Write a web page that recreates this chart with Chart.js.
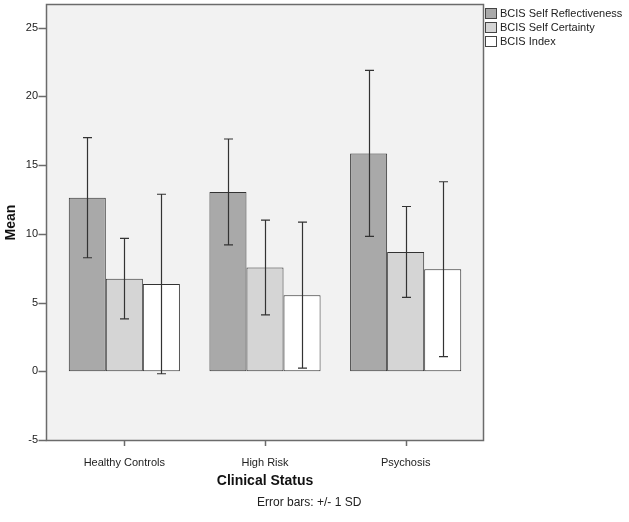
<!DOCTYPE html>
<html>
<head>
<meta charset="utf-8">
<script src="https://cdn.jsdelivr.net/npm/chart.js@4.4.1/dist/chart.umd.min.js"></script>
<style>
  body { margin: 0; background: #fff; }
  #wrap { width: 629px; height: 522px; }
</style>
</head>
<body>
<div id="wrap"><canvas id="chart" width="629" height="522"></canvas></div>
<script>
// --- data ---
const categories = ['Healthy Controls', 'High Risk', 'Psychosis'];
const seriesNames = ['BCIS Self Reflectiveness', 'BCIS Self Certainty', 'BCIS Index'];
const reflectivenessMean = [12.63, 13.05, 15.85];
const reflectivenessSD = [4.37, 3.85, 6.04];
const certaintyMean = [6.74, 7.55, 8.68];
const certaintySD = [2.93, 3.45, 3.31];
const indexMean = [6.35, 5.54, 7.43];
const indexSD = [6.53, 5.31, 6.36];
const yTicks = [-5, 0, 5, 10, 15, 20, 25];

const FONT = "'Liberation Sans', Arial, sans-serif";
const fills = ['#a9a9a9', '#d5d5d5', '#ffffff'];
const means = [reflectivenessMean, certaintyMean, indexMean];
const sds = [reflectivenessSD, certaintySD, indexSD];

// frame sticks out a little past the chart area on left/right
const FRAME_PAD = 7;

const spssLook = {
    id: 'spssLook',
    beforeDraw(chart) {
        const { ctx, chartArea: a } = chart;
        ctx.save();
        ctx.fillStyle = '#fff';
        ctx.fillRect(0, 0, chart.width, chart.height);
        ctx.fillStyle = '#f2f2f2';
        ctx.fillRect(a.left - FRAME_PAD, a.top - 1, a.right - a.left + 2 * FRAME_PAD, a.bottom - a.top + 1);
        ctx.restore();
    },
    afterDatasetsDraw(chart) {
        const { ctx } = chart;
        const y = chart.scales.y;
        ctx.save();
        ctx.strokeStyle = '#333';
        ctx.lineWidth = 1.2;
        means.forEach((m, i) => {
            chart.getDatasetMeta(i).data.forEach((bar, j) => {
                const x = Math.round(bar.x) + 0.5;
                const hi = y.getPixelForValue(m[j] + sds[i][j]);
                const lo = y.getPixelForValue(m[j] - sds[i][j]);
                ctx.beginPath();
                ctx.moveTo(x, hi); ctx.lineTo(x, lo);
                ctx.moveTo(x - 4.5, hi); ctx.lineTo(x + 4.5, hi);
                ctx.moveTo(x - 4.5, lo); ctx.lineTo(x + 4.5, lo);
                ctx.stroke();
            });
        });
        ctx.restore();
    },
    afterDraw(chart) {
        const { ctx, chartArea: a } = chart;
        const y = chart.scales.y, x = chart.scales.x;
        const left = a.left - FRAME_PAD - 0.5, right = a.right + FRAME_PAD + 0.5;
        ctx.save();
        // frame
        ctx.strokeStyle = '#6b6b6b';
        ctx.lineWidth = 1.5;
        ctx.strokeRect(left, a.top - 0.5, right - left, a.bottom - a.top + 1);
        // tick marks
        ctx.beginPath();
        y.ticks.forEach(t => {
            const py = Math.round(y.getPixelForValue(t.value)) + 0.5;
            ctx.moveTo(left - 8, py); ctx.lineTo(left, py);
        });
        categories.forEach((c, i) => {
            const px = Math.round(x.getPixelForValue(i)) + 0.5;
            ctx.moveTo(px, a.bottom); ctx.lineTo(px, a.bottom + 6);
        });
        ctx.stroke();

        // legend
        ctx.font = '11px ' + FONT;
        ctx.textBaseline = 'middle';
        ctx.textAlign = 'left';
        seriesNames.forEach((name, i) => {
            const cy = 13.5 + i * 14;
            ctx.fillStyle = fills[i];
            ctx.fillRect(485.5, cy - 5, 11, 10);
            ctx.strokeStyle = '#444';
            ctx.lineWidth = 1;
            ctx.strokeRect(485.5, cy - 5, 11, 10);
            ctx.fillStyle = '#222';
            ctx.fillText(name, 500, cy);
        });

        // footnote
        ctx.font = '12px ' + FONT;
        ctx.fillStyle = '#222';
        ctx.fillText('Error bars: +/- 1 SD', 257, 503);
        ctx.restore();
    }
};

new Chart(document.getElementById('chart'), {
    type: 'bar',
    data: {
        labels: categories,
        datasets: seriesNames.map((name, i) => ({
            label: name,
            data: means[i],
            backgroundColor: fills[i],
            borderColor: '#333',
            borderWidth: 1,
            borderSkipped: false,
            barPercentage: 1,
            categoryPercentage: 0.79
        }))
    },
    options: {
        responsive: false,
        animation: false,
        layout: { padding: { left: 0, right: 153, top: 5, bottom: 0 } },
        plugins: {
            legend: { display: false },
            tooltip: { enabled: false }
        },
        scales: {
            x: {
                grid: { display: false },
                border: { display: false },
                ticks: { color: '#222', font: { family: FONT, size: 11 }, padding: 8 },
                title: {
                    display: true,
                    text: 'Clinical Status',
                    color: '#111',
                    font: { family: FONT, size: 14, weight: 'bold' },
                    padding: { top: 0, bottom: 32.6 }
                },
                afterFit(s) { s.height = 82; s.paddingLeft = 0; s.paddingRight = 0; }
            },
            y: {
                min: -5,
                max: 26.65,
                grid: { display: false },
                border: { display: false },
                ticks: { stepSize: 5, color: '#222', font: { family: FONT, size: 11 }, padding: 8 },
                afterBuildTicks(s) { s.ticks = yTicks.map(v => ({ value: v })); },
                title: {
                    display: true,
                    text: 'Mean',
                    color: '#111',
                    font: { family: FONT, size: 14, weight: 'bold' },
                    padding: { top: 3, bottom: 0 }
                },
                afterFit(s) { s.width = 54; s.paddingTop = 0; s.paddingBottom = 0; }
            }
        }
    },
    plugins: [spssLook]
});
</script>
</body>
</html>
